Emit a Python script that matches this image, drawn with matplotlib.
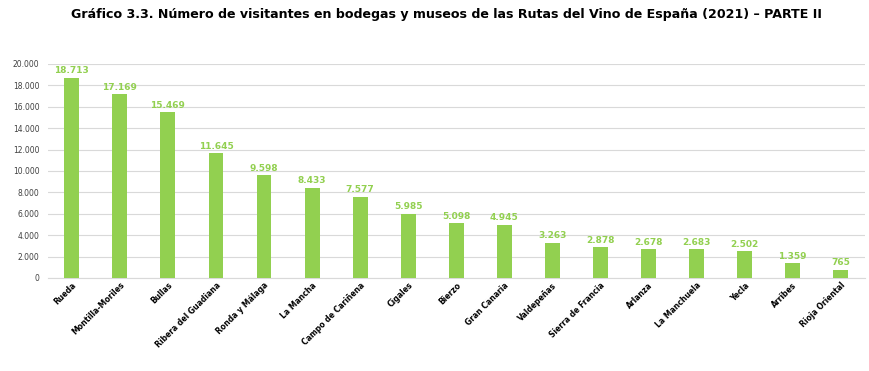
import matplotlib
matplotlib.use("Agg")
import matplotlib.pyplot as plt
from matplotlib.ticker import FuncFormatter

# datos del gráfico
rutas = ["Rueda", "Montilla-Moriles", "Bullas", "Ribera del Guadiana", "Ronda y Málaga",
         "La Mancha", "Campo de Cariñena", "Cigales", "Bierzo", "Gran Canaria",
         "Valdepeñas", "Sierra de Francia", "Arlanza", "La Manchuela", "Yecla",
         "Arribes", "Rioja Oriental"]
visitantes = [18713, 17169, 15469, 11645, 9598, 8433, 7577, 5985, 5098, 4945,
              3263, 2878, 2678, 2683, 2502, 1359, 765]
yticks = list(range(0, 20001, 2000))

green = "#92D050"

def miles(v, pos=None):
    return f"{int(v):,}".replace(",", ".")

fig = plt.figure(figsize=(8.69, 3.71), dpi=100)
ax = fig.add_axes([0.055, 0.2507, 0.94, 0.577])

x = range(len(rutas))
ax.bar(x, visitantes, width=0.31, color=green, zorder=3)
for i, v in zip(x, visitantes):
    ax.text(i, v + 250, miles(v), ha="center", va="bottom", fontsize=6.5,
            fontweight="bold", color=green)

ax.set_ylim(0, 20000)
ax.set_xlim(-0.5, len(rutas) - 0.5)
ax.set_yticks(yticks)
ax.yaxis.set_major_formatter(FuncFormatter(miles))
ax.tick_params(axis="y", length=0, labelsize=5.5, colors="#404040", pad=6)
ax.tick_params(axis="x", length=0, pad=2)
ax.set_xticks(list(x))
ax.set_xticklabels(rutas, rotation=45, ha="right", rotation_mode="anchor",
                   fontsize=5.5, fontweight="bold")
ax.grid(axis="y", color="#D9D9D9", linewidth=0.8, zorder=0)
for s in ["top", "right", "left"]:
    ax.spines[s].set_visible(False)
ax.spines["bottom"].set_color("#D9D9D9")

fig.text(0.5138, 0.96, "Gráfico 3.3. Número de visitantes en bodegas y museos de las Rutas del Vino de España (2021) – PARTE II",
         ha="center", va="center", fontsize=9.05, fontweight="bold")

fig.savefig("out.png", dpi=100)
